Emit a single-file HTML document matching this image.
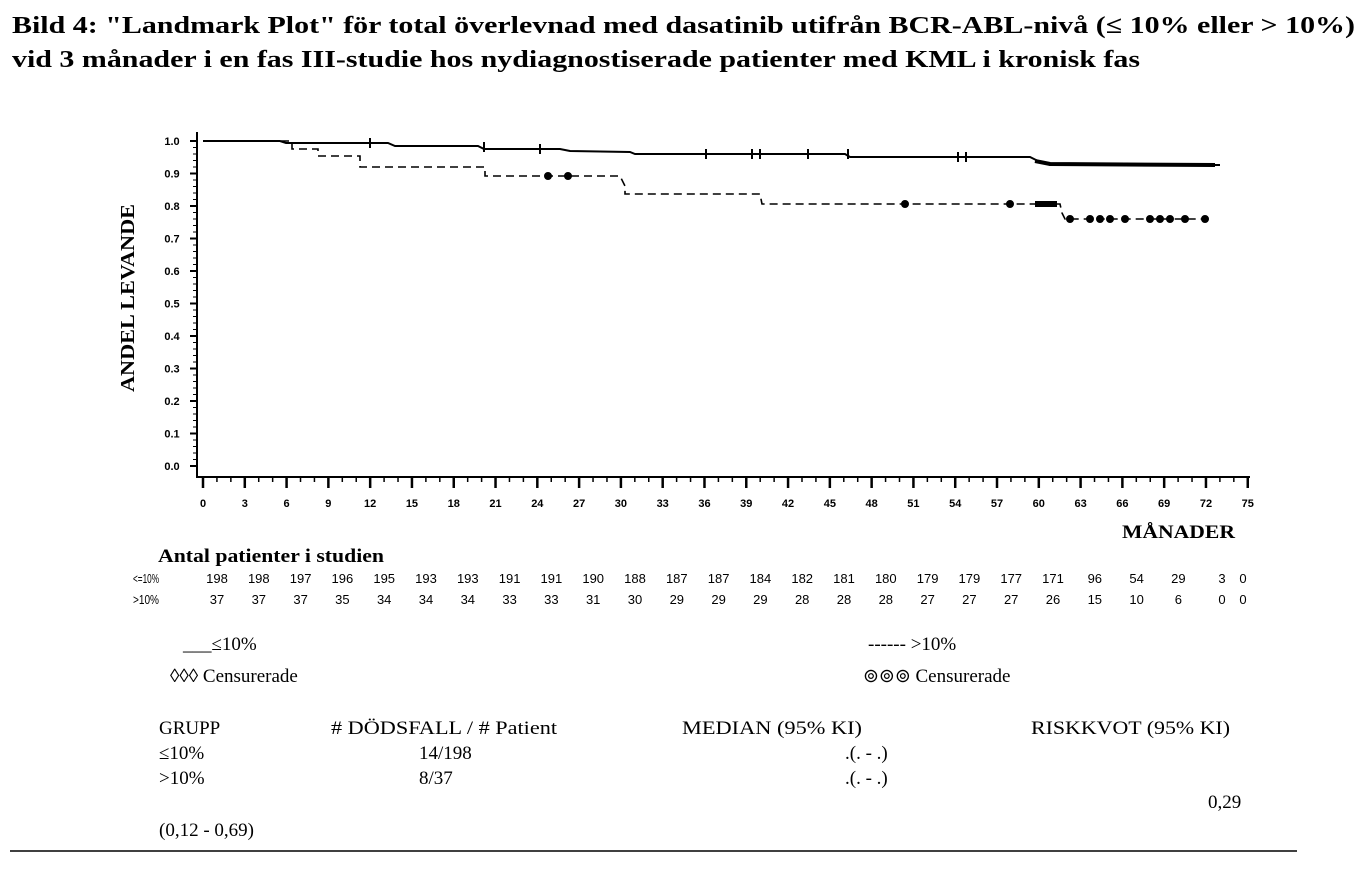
<!DOCTYPE html>
<html><head><meta charset="utf-8"><style>
html,body{margin:0;padding:0;background:#fff;}
svg{display:block;}
text{font-family:"Liberation Serif",serif;fill:#000;}
.t{font-weight:bold;font-size:24px;}
.s{font-family:"Liberation Sans",sans-serif;font-weight:bold;font-size:11px;}
.n{font-family:"Liberation Sans",sans-serif;font-size:13px;}
.r{font-size:19px;}
</style></head><body>
<svg id="c" width="1370" height="877" viewBox="0 0 1370 877" xmlns="http://www.w3.org/2000/svg">
<text class="t" x="12" y="33" textLength="1343" lengthAdjust="spacingAndGlyphs">Bild 4: "Landmark Plot" för total överlevnad med dasatinib utifrån BCR-ABL-nivå (≤ 10% eller &gt; 10%)</text>
<text class="t" x="12" y="67" textLength="1128" lengthAdjust="spacingAndGlyphs">vid 3 månader i en fas III-studie hos nydiagnostiserade patienter med KML i kronisk fas</text>
<text transform="translate(134,298) rotate(-90)" text-anchor="middle" font-weight="bold" font-size="20" textLength="188" lengthAdjust="spacingAndGlyphs">ANDEL LEVANDE</text>
<line x1="197" y1="132" x2="197" y2="478" stroke="#000" stroke-width="2"/>
<line x1="197" y1="477" x2="1250" y2="477" stroke="#000" stroke-width="2"/>
<g id="ticks" stroke="#000"></g>
<g id="lab"></g>
<polyline fill="none" stroke="#000" stroke-width="2" points="203,141 280,141 286,143 388,143 395,146 478,146 484,149 560,149 570,151 630,152 635,154 845,154 850,157 1030,157 1038,161 1045,163 1050,165 1220,165"/>
<polyline fill="none" stroke="#000" stroke-width="4" points="1035,161 1050,164 1215,165"/>
<polyline fill="none" stroke="#000" stroke-width="1.6" stroke-dasharray="8,5" points="203,141 292,141 292,149 318,149 318,156 360,156 360,167 485,167 485,176 620,176 625,186 625,194 760,194 762,204 1060,204 1062,213 1065,219 1210,219"/>
<rect x="1035" y="201" width="22" height="6" fill="#000"/>
<text class="r" x="1122" y="538" font-weight="bold" font-size="20" textLength="113" lengthAdjust="spacingAndGlyphs">MÅNADER</text>
<text x="158" y="562" font-weight="bold" font-size="19" textLength="226" lengthAdjust="spacingAndGlyphs">Antal patienter i studien</text>
<text class="n" x="133" y="583" textLength="26" lengthAdjust="spacingAndGlyphs">&lt;=10%</text>
<text class="n" x="133" y="604" textLength="26" lengthAdjust="spacingAndGlyphs">&gt;10%</text>
<g id="risk"></g>
<text class="r" x="183" y="650">___≤10%</text>
<text class="r" x="868" y="650">------ &gt;10%</text>
<text class="r" x="170" y="682">◊◊◊ Censurerade</text>
<text class="r" x="863" y="682">⊚⊚⊚ Censurerade</text>
<text class="r" x="159" y="734">GRUPP</text>
<text class="r" x="331" y="734" textLength="226" lengthAdjust="spacingAndGlyphs"># DÖDSFALL / # Patient</text>
<text class="r" x="682" y="734" textLength="180" lengthAdjust="spacingAndGlyphs">MEDIAN (95% KI)</text>
<text class="r" x="1031" y="734" textLength="199" lengthAdjust="spacingAndGlyphs">RISKKVOT (95% KI)</text>
<text class="r" x="159" y="759">≤10%</text>
<text class="r" x="419" y="759">14/198</text>
<text class="r" x="845" y="759">.(. - .)</text>
<text class="r" x="159" y="784">&gt;10%</text>
<text class="r" x="419" y="784">8/37</text>
<text class="r" x="845" y="784">.(. - .)</text>
<text class="r" x="1208" y="808">0,29</text>
<text class="r" x="159" y="836">(0,12 - 0,69)</text>
<line x1="10" y1="851" x2="1297" y2="851" stroke="#000" stroke-width="1.5"/>
</svg>
<script>
var NS="http://www.w3.org/2000/svg";
function el(p,tag,a,txt){var e=document.createElementNS(NS,tag);for(var k in a)e.setAttribute(k,a[k]);if(txt!==undefined)e.textContent=txt;p.appendChild(e);return e;}
var tk=document.getElementById('ticks'),lb=document.getElementById('lab'),rk=document.getElementById('risk');
function X(m){return 203+m*13.93;}
for(var m=0;m<=75;m++){var x=X(m);var maj=m%3==0;el(tk,'line',{x1:x,y1:477,x2:x,y2:maj?488:482,'stroke-width':maj?2.5:1.5});
 if(maj)el(lb,'text',{class:'s',x:x,y:507,'text-anchor':'middle'},String(m));}
for(var i=0;i<=10;i++){var y=466-i*32.5;el(tk,'line',{x1:190,y1:y,x2:197,y2:y,'stroke-width':2});
 el(lb,'text',{class:'s',x:172,y:y+4,'text-anchor':'middle'},(i/10).toFixed(1));
 if(i<10)for(var j=1;j<5;j++){el(tk,'line',{x1:193,y1:y-j*6.5,x2:197,y2:y-j*6.5,'stroke-width':1});}}
var a=[198,198,197,196,195,193,193,191,191,190,188,187,187,184,182,181,180,179,179,177,171,96,54,29,3,0];
var b=[37,37,37,35,34,34,34,33,33,31,30,29,29,29,28,28,28,27,27,27,26,15,10,6,0,0];
var xs=[];for(var i=0;i<24;i++)xs.push(217+i*41.8);xs.push(1222);xs.push(1243);
for(var i=0;i<26;i++){el(rk,'text',{class:'n',x:xs[i],y:583,'text-anchor':'middle'},String(a[i]));el(rk,'text',{class:'n',x:xs[i],y:604,'text-anchor':'middle'},String(b[i]));}
// censor marks
var cs=[[370,143],[484,147],[540,149],[706,154],[752,154],[760,154],[808,154],[848,154],[958,157],[966,157]];
cs.forEach(function(p){el(tk,'line',{x1:p[0],y1:p[1]-5,x2:p[0],y2:p[1]+5,'stroke-width':2});});
var cd=[[548,176],[568,176],[905,204],[1010,204],[1070,219],[1090,219],[1100,219],[1110,219],[1125,219],[1150,219],[1160,219],[1170,219],[1185,219],[1205,219]];
cd.forEach(function(p){el(tk,'circle',{cx:p[0],cy:p[1],r:3.5,fill:'#000'});});
</script>
</body></html>
